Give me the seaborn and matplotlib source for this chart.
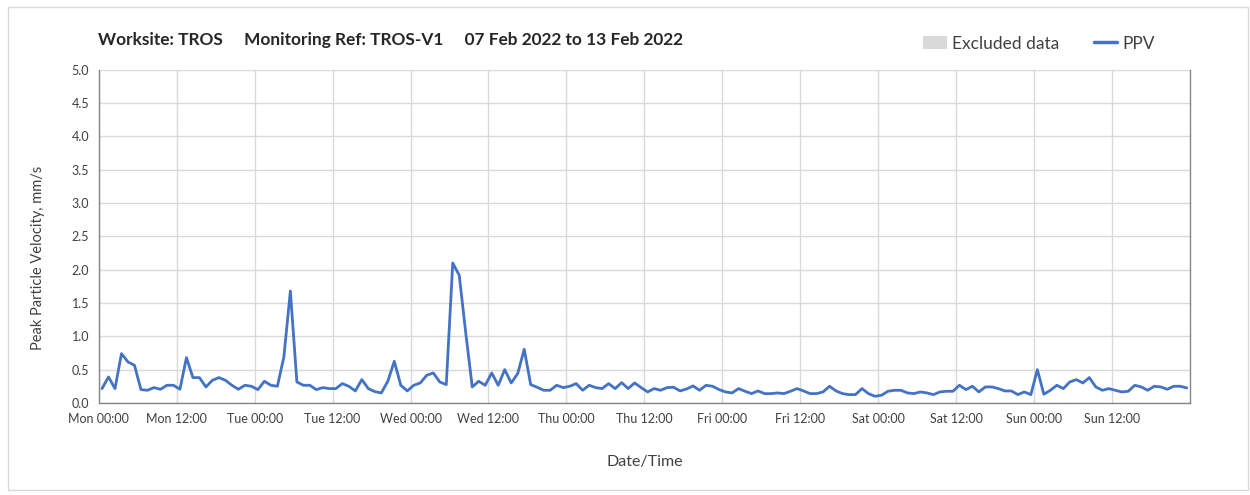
import pandas as pd
import matplotlib
matplotlib.use("Agg")
import matplotlib.pyplot as plt
import matplotlib.dates as mdates
from matplotlib.patches import Patch, Rectangle
from matplotlib.lines import Line2D
import seaborn as sns

# <--- chart data (hourly PPV, mm/s) --->
start_time = "2022-02-07 00:30"
ppv_mon = [0.215, 0.39, 0.215, 0.74, 0.615, 0.565, 0.2, 0.19, 0.23, 0.205, 0.265, 0.265,
           0.205, 0.68, 0.38, 0.38, 0.24, 0.34, 0.38, 0.34, 0.265, 0.205, 0.265, 0.25]
ppv_tue = [0.2, 0.325, 0.265, 0.25, 0.69, 1.68, 0.315, 0.265, 0.265, 0.2, 0.23, 0.215,
           0.215, 0.29, 0.25, 0.18, 0.35, 0.215, 0.17, 0.15, 0.325, 0.625, 0.265, 0.18]
ppv_wed = [0.265, 0.3, 0.415, 0.45, 0.315, 0.275, 2.1, 1.915, 1.05, 0.24, 0.325, 0.265,
           0.45, 0.265, 0.5, 0.3, 0.44, 0.805, 0.275, 0.235, 0.19, 0.19, 0.265, 0.23]
ppv_thu = [0.25, 0.29, 0.19, 0.265, 0.23, 0.215, 0.29, 0.215, 0.305, 0.215, 0.3, 0.23,
           0.165, 0.215, 0.19, 0.23, 0.235, 0.18, 0.21, 0.255, 0.19, 0.265, 0.25, 0.2]
ppv_fri = [0.165, 0.15, 0.215, 0.175, 0.14, 0.18, 0.14, 0.14, 0.15, 0.14, 0.175, 0.215,
           0.18, 0.14, 0.14, 0.165, 0.25, 0.18, 0.14, 0.125, 0.125, 0.215, 0.14, 0.1]
ppv_sat = [0.115, 0.175, 0.19, 0.19, 0.15, 0.14, 0.165, 0.15, 0.125, 0.165, 0.175, 0.175,
           0.265, 0.2, 0.25, 0.165, 0.24, 0.24, 0.215, 0.18, 0.18, 0.125, 0.165, 0.125]
ppv_sun = [0.5, 0.13, 0.19, 0.265, 0.215, 0.315, 0.35, 0.3, 0.38, 0.24, 0.19, 0.215,
           0.19, 0.165, 0.175, 0.265, 0.24, 0.19, 0.25, 0.24, 0.205, 0.25, 0.25, 0.225]

title_text = "Worksite: TROS     Monitoring Ref: TROS-V1     07 Feb 2022 to 13 Feb 2022"
y_label = "Peak Particle Velocity, mm/s"
x_label = "Date/Time"

ppv = ppv_mon + ppv_tue + ppv_wed + ppv_thu + ppv_fri + ppv_sat + ppv_sun
df = pd.DataFrame({
    "time": pd.date_range(start_time, periods=len(ppv), freq="h"),
    "ppv": ppv,
})

sns.set_style("white")
plt.rcParams["font.family"] = ["Lato", "DejaVu Sans"]

grid_col = "#d9d9d9"
axis_col = "#868686"
text_col = "#404040"
line_col = "#4472c4"

fig = plt.figure(figsize=(12.5, 4.95), dpi=100)
ax = fig.add_axes([0.079, 0.186, 0.873, 0.673])

sns.lineplot(data=df, x="time", y="ppv", ax=ax, color=line_col, linewidth=2.0)

ax.set_xlim(pd.Timestamp("2022-02-07 00:00"), pd.Timestamp("2022-02-14 00:00"))
ax.set_ylim(0, 5)
ax.set_yticks([i * 0.5 for i in range(11)])
ax.yaxis.set_major_formatter(matplotlib.ticker.FormatStrFormatter("%.1f"))
ax.set_xticks(pd.date_range("2022-02-07 00:00", periods=14, freq="12h"))
ax.xaxis.set_major_formatter(mdates.DateFormatter("%a %H:%M"))

ax.grid(True, color=grid_col, linewidth=1.0)
ax.set_axisbelow(True)
for side in ["left", "bottom", "right"]:
    ax.spines[side].set_color(axis_col)
    ax.spines[side].set_linewidth(1.0)
ax.spines["top"].set_visible(False)
ax.tick_params(axis="both", direction="out", length=4, width=1, color=axis_col,
               labelsize=9, labelcolor=text_col, pad=3)

ax.set_xlabel(x_label, fontsize=11.5, color=text_col, labelpad=22)
ax.set_ylabel(y_label, fontsize=10.5, color=text_col)
ax.yaxis.set_label_coords(-0.049, 0.435)

fig.text(0.078, 0.919, title_text, fontsize=12.4, fontweight="bold", color="#262626",
         va="center", ha="left")

handles = [Patch(facecolor=grid_col, edgecolor="none", label="Excluded data"),
           Line2D([0], [0], color=line_col, linewidth=2.5, label="PPV")]
fig.legend(handles=handles, loc="center left", bbox_to_anchor=(0.726, 0.912),
           ncol=2, frameon=False, fontsize=12.5, handlelength=1.35, handletextpad=0.3,
           columnspacing=2.0, labelcolor=text_col)

fig.patches.append(Rectangle((0.006, 0.01), 0.992, 0.975, transform=fig.transFigure,
                             fill=False, edgecolor=grid_col, linewidth=1.0))

fig.savefig("out.png", dpi=100)
